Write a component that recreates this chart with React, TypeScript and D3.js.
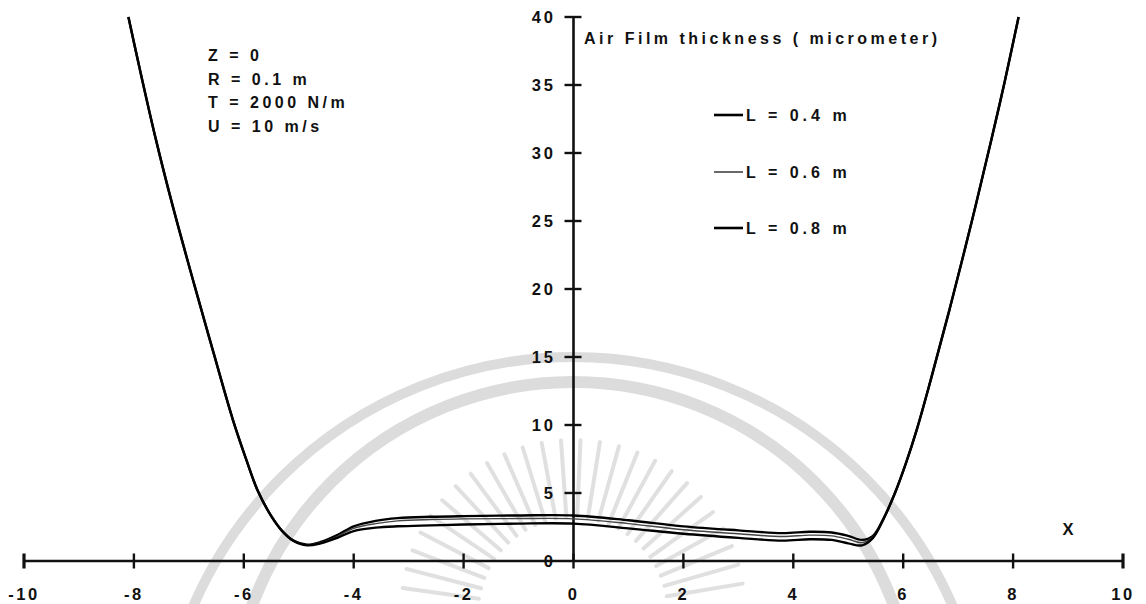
import React from 'react';
import * as d3 from 'd3';

const W = 1146;
const H = 604;

// Position along the web (X) shared by the three computed profiles
const xValues = [
  -8.1, -7.9, -7.6, -7.3, -6.9, -6.55, -6.2, -5.95, -5.75, -5.5, -5.3, -5.1, -4.85,
  -4.6, -4.3, -4.0, -3.6, -3.2, -2.6, -2, -1, 0, 1, 2, 3, 3.8, 4.3, 4.7, 5.0, 5.25,
  5.45, 5.65, 5.85, 6.05, 6.25, 6.5, 6.85, 7.25, 7.6, 7.85, 8.1,
];

// Air film thickness (micrometer) for each span length L
const thicknessL04 = [
  40, 36.3, 31.0, 26.2, 20.3, 15.3, 10.4, 7.4, 5.2, 3.3, 2.2, 1.5, 1.2,
  1.4, 1.9, 2.55, 2.95, 3.15, 3.25, 3.3, 3.35, 3.35, 3.0, 2.55, 2.25, 2.05, 2.15, 2.1, 1.85, 1.55,
  1.85, 3.2, 5.0, 7.2, 9.7, 13.3, 18.6, 25.0, 30.9, 35.3, 40,
];
const thicknessL06 = [
  40, 36.3, 31.0, 26.2, 20.3, 15.3, 10.4, 7.4, 5.2, 3.3, 2.2, 1.5, 1.18,
  1.35, 1.8, 2.4, 2.75, 2.95, 3.05, 3.1, 3.12, 3.1, 2.75, 2.3, 2.0, 1.8, 1.9, 1.85, 1.6, 1.35,
  1.78, 3.18, 5.0, 7.2, 9.7, 13.3, 18.6, 25.0, 30.9, 35.3, 40,
];
const thicknessL08 = [
  40, 36.3, 31.0, 26.2, 20.3, 15.3, 10.4, 7.4, 5.2, 3.3, 2.2, 1.5, 1.15,
  1.3, 1.7, 2.2, 2.45, 2.55, 2.62, 2.68, 2.75, 2.75, 2.4, 2.0, 1.7, 1.5, 1.6, 1.55, 1.3, 1.15,
  1.7, 3.15, 5.0, 7.2, 9.7, 13.3, 18.6, 25.0, 30.9, 35.3, 40,
];

const seriesLabels = ['L = 0.4 m', 'L = 0.6 m', 'L = 0.8 m'];
const xTicks = [-10, -8, -6, -4, -2, 0, 2, 4, 6, 8, 10];
const yTicks = [0, 5, 10, 15, 20, 25, 30, 35, 40];
const caseParams = ['Z = 0', 'R = 0.1 m', 'T = 2000 N/m', 'U = 10 m/s'];
const yTitle = 'Air Film thickness ( micrometer)';
const xTitle = 'X';

const FONT = '"Liberation Sans", Arial, Helvetica, sans-serif';

const seriesStyle = [
  { stroke: '#000', width: 2.4 },
  { stroke: '#444', width: 1.4 },
  { stroke: '#000', width: 2.4 },
];

export default function App() {
  const x = d3.scaleLinear().domain([-10, 10]).range([24, 1123]);
  const y = d3.scaleLinear().domain([0, 40]).range([561, 17]);

  const series = [thicknessL04, thicknessL06, thicknessL08];
  const line = d3
    .line<[number, number]>()
    .x((d) => x(d[0]))
    .y((d) => y(d[1]))
    .curve(d3.curveCatmullRom.alpha(0.5));

  const x0 = x(0);
  const yAxisY = y(0);

  // faint emblem in the background of the page
  const rayCenter = { cx: 573, cy: 612 };
  const rayAngles = d3.range(188, 353, 6.5);

  return (
    <svg
      width={W}
      height={H}
      style={{ position: 'absolute', left: 0, top: 0, background: '#fff' }}
      fontFamily={FONT}
      fontWeight="bold"
    >
      <g>
        <circle cx={573} cy={771} r={414} fill="none" stroke="#dcdcdc" strokeWidth={10} />
        <circle cx={573} cy={724} r={342} fill="none" stroke="#dcdcdc" strokeWidth={12} />
        {rayAngles.map((a, i) => {
          const rad = (a * Math.PI) / 180;
          const r0 = 95;
          const r1 = 172;
          return (
            <line
              key={i}
              x1={rayCenter.cx + r0 * Math.cos(rad)}
              y1={rayCenter.cy + r0 * Math.sin(rad)}
              x2={rayCenter.cx + r1 * Math.cos(rad)}
              y2={rayCenter.cy + r1 * Math.sin(rad)}
              stroke="#e0e0e0"
              strokeWidth={4}
              strokeLinecap="round"
            />
          );
        })}
      </g>

      {/* X axis */}
      <line x1={x(-10)} x2={x(10)} y1={yAxisY} y2={yAxisY} stroke="#111" strokeWidth={2.6} />
      {xTicks.map((t) => (
        <g key={`xt${t}`}>
          <line
            x1={x(t)}
            x2={x(t)}
            y1={yAxisY - 7.5}
            y2={yAxisY + 7.5}
            stroke="#111"
            strokeWidth={Math.abs(t) === 10 ? 3.2 : 2.4}
          />
          <text
            x={x(t)}
            y={600}
            textAnchor="middle"
            fontSize={16.5}
            style={{ letterSpacing: '2.5px' }}
            fill="#111"
          >
            {t}
          </text>
        </g>
      ))}

      {/* Y axis */}
      <line x1={x0} x2={x0} y1={y(40)} y2={yAxisY} stroke="#111" strokeWidth={2.6} />
      {yTicks.map((t) => (
        <g key={`yt${t}`}>
          {t > 0 && (
            <line x1={x0 - 9} x2={x0 + 8} y1={y(t)} y2={y(t)} stroke="#111" strokeWidth={2.4} />
          )}
          <text
            x={556}
            y={y(t)}
            dy="0.36em"
            textAnchor="end"
            fontSize={16.5}
            style={{ letterSpacing: '3px' }}
            fill="#111"
          >
            {t}
          </text>
        </g>
      ))}

      <text x={584} y={44} fontSize={16} style={{ letterSpacing: '3.5px' }} fill="#111">
        {yTitle}
      </text>
      <text x={1068} y={535} textAnchor="middle" fontSize={16.5} fill="#111">
        {xTitle}
      </text>

      {caseParams.map((s, i) => (
        <text
          key={s}
          x={208}
          y={61 + i * 23.5}
          fontSize={16}
          style={{ letterSpacing: '3.5px' }}
          fill="#111"
        >
          {s}
        </text>
      ))}

      {/* film thickness profiles */}
      {series.map((vals, i) => (
        <path
          key={seriesLabels[i]}
          d={line(xValues.map((xv, j) => [xv, vals[j]] as [number, number])) || ''}
          fill="none"
          stroke={seriesStyle[i].stroke}
          strokeWidth={seriesStyle[i].width}
          strokeLinejoin="round"
        />
      ))}

      {/* legend */}
      {seriesLabels.map((s, i) => {
        const ly = [115, 172, 228][i];
        return (
          <g key={`lg${s}`}>
            <line
              x1={714}
              x2={743}
              y1={ly}
              y2={ly}
              stroke={seriesStyle[i].stroke}
              strokeWidth={i === 1 ? 1.6 : 2.6}
            />
            <text x={746} y={ly + 6} fontSize={16} style={{ letterSpacing: '4px' }} fill="#111">
              {s}
            </text>
          </g>
        );
      })}
    </svg>
  );
}
